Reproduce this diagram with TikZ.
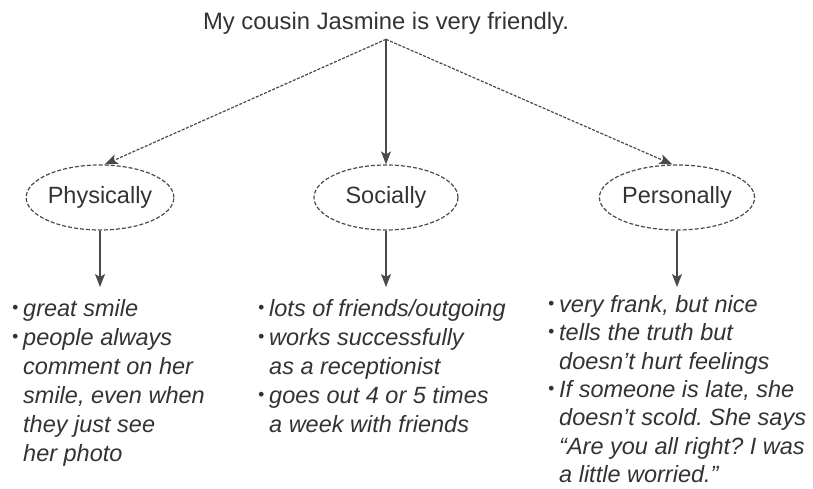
\documentclass[tikz,border=0pt]{standalone}
\usepackage{fontspec}
\setmainfont{Liberation Sans}
\usetikzlibrary{arrows.meta,shapes.geometric}
\definecolor{inkgray}{HTML}{333333}
\definecolor{linegray}{HTML}{4A4A4A}
\newcommand{\bul}{\makebox[11pt][l]{\raisebox{0.12em}{\scalebox{0.75}{\textbullet}}}}
\newcommand{\ind}{\hspace*{11pt}}
\begin{document}
\begin{tikzpicture}
[x=1pt,y=-1pt,
  ovalDecorate/.style={shape=ellipse,draw=linegray,line width=1.2pt,dash pattern=on 4pt off 2pt,
    minimum width=144pt,minimum height=65pt,inner sep=0pt,text=inkgray,font=\fontsize{23.5}{28}\selectfont},
  dashArrow/.style={-{Stealth[length=13pt,width=10pt,inset=3pt]},draw=linegray,line width=1.2pt,dash pattern=on 3pt off 1.5pt},
  plainArrow/.style={-{Stealth[length=13pt,width=10pt,inset=3pt]},draw=linegray,line width=1.2pt},
  listDecorate/.style={anchor=north west,align=left,inner sep=0pt,text=inkgray,
    font=\fontsize{23.5}{29}\selectfont\itshape}]
\useasboundingbox (0,0) rectangle (813,489);
%% title
\node (top) at (386,23) [inner sep=5pt,text=inkgray,font=\fontsize{23.8}{28}\selectfont]
  {My cousin Jasmine is very friendly.};
%% ellipses and their arrows
\foreach \nodename/\x/\label in {phys/100/Physically, soc/386/Socially, pers/677/Personally}
{
  \node (\nodename) at (\x,197.5) [ovalDecorate] {\label};
  \coordinate (\nodename Tip) at (\x,287);
  \draw[plainArrow] (\nodename.south) -- (\nodename Tip);
}
\draw[dashArrow] (top.south) -- (phys.82);
\draw[plainArrow] (top.south) -- (soc.north);
\draw[dashArrow] (top.south) -- (pers.98);
%% lists
\node (physList) at (12,299) [listDecorate]
  {\bul great smile\\
   \bul people always\\
   \ind comment on her\\
   \ind smile, even when\\
   \ind they just see\\
   \ind her photo};
\node (socList) at (258,299) [listDecorate]
  {\bul lots of friends/outgoing\\
   \bul works successfully\\
   \ind as a receptionist\\
   \bul goes out 4 or 5 times\\
   \ind a week with friends};
\node (persList) at (548,295) [listDecorate,font=\fontsize{23.5}{28.4}\selectfont\itshape]
  {\bul very frank, but nice\\
   \bul tells the truth but\\
   \ind doesn't hurt feelings\\
   \bul If someone is late, she\\
   \ind doesn't scold.\ She says\\
   \ind “Are you all right?\ I was\\
   \ind a little worried.”};
\end{tikzpicture}
\end{document}
